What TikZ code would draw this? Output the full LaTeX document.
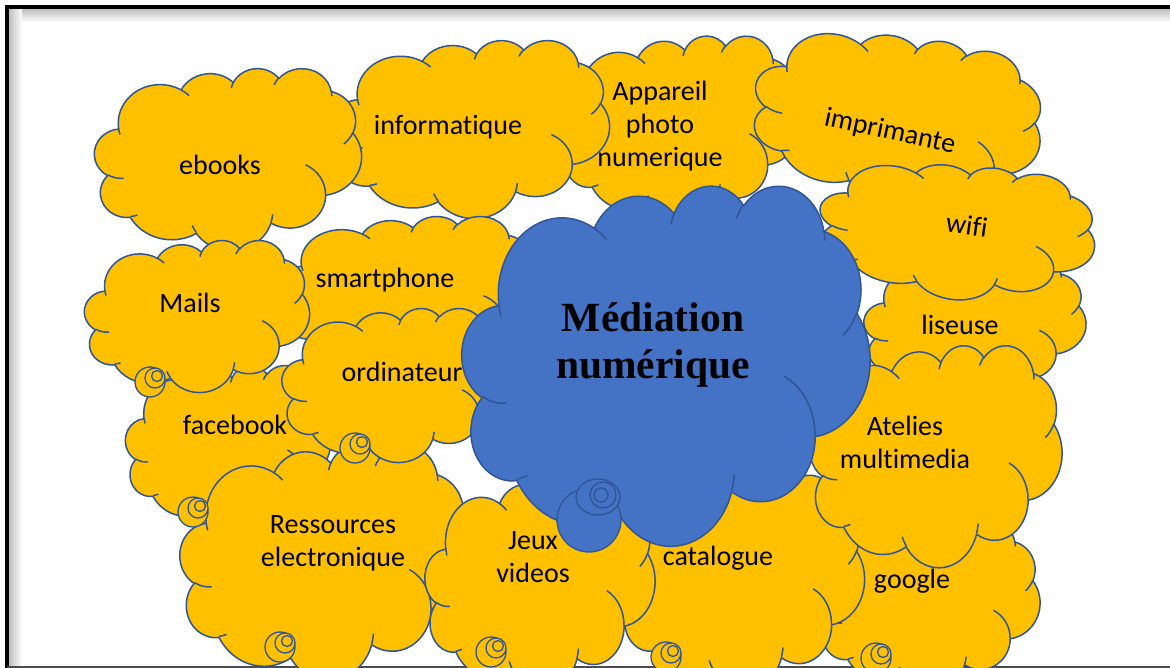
\documentclass[tikz,border=0pt]{standalone}
\usepackage{fontspec}
\setmainfont{Carlito}[Ligatures=NoCommon]
\newfontfamily\serifbold{Liberation Serif}
\definecolor{cyel}{HTML}{FFC000}
\definecolor{cblu}{HTML}{4472C4}
\definecolor{cedge}{HTML}{2F5597}
\makeatletter
\newcommand\mkarc[5]{%
  \pgfmathsetmacro\wc@a{atan2((#2)*sin(#4),(#3)*cos(#4))}%
  \pgfmathsetmacro\wc@b{atan2((#2)*sin((#4)+(#5)),(#3)*cos((#4)+(#5)))}%
  \pgfmathsetmacro\wc@b{(\wc@b<\wc@a)?(\wc@b+360):\wc@b}%
  \expandafter\xdef\csname wcarc#1\endcsname{arc[start angle=\wc@a, end angle=\wc@b, x radius=#2, y radius=#3]}%
}
\makeatother
% outline arcs (Word cloud geometry, units of 1/432)
\mkarc{A}{15.6319}{21.2731}{-190.48748}{123.78053}
\mkarc{B}{12.3449}{16.8218}{-144.10238}{89.94523}
\mkarc{C}{10.1042}{13.7616}{-145.80792}{99.72302}
\mkarc{D}{11.2431}{15.2662}{-130.98607}{117.24173}
\mkarc{E}{12.3449}{16.8356}{-78.70888}{109.02692}
\mkarc{F}{15.6829}{21.3426}{-46.26725}{130.269}
\mkarc{G}{13.3912}{18.2106}{0.62502}{114.03333}
\mkarc{H}{15.6296}{21.331}{22.4516}{115.17255}
\mkarc{I}{17.8704}{24.4051}{66.24263}{75.71102}
\mkarc{J}{10.0926}{13.6991}{-274.94208}{146.73557}
\mkarc{K}{10.0579}{13.7616}{-246.8285}{152.51885}
% interior arcs
\mkarc{Ia}{10.0579}{13.7616}{86.742}{26.4295}
\mkarc{Ib}{10.0926}{13.6991}{73.6105}{11.4475}
\mkarc{Ic}{15.6296}{21.331}{137.62415}{14.0811}
\mkarc{Id}{15.6296}{21.331}{6.45327}{15.99835}
\mkarc{Ie}{13.3912}{18.2106}{-70.29235}{70.91737}
\mkarc{If}{12.3449}{16.8356}{30.31803}{27.7515}
\mkarc{Ig}{11.2431}{15.2662}{-13.74433}{14.8589}
\mkarc{Ih}{11.2431}{15.2662}{-149.18145}{18.19537}
\mkarc{Ii}{10.1042}{13.7616}{-163.49427}{17.68635}
\mkarc{Ij}{15.6319}{21.2731}{-66.70695}{12.31935}
\mkarc{Ik}{15.6319}{21.2731}{157.65435}{11.85817}
\tikzset{
  cl/.style={draw=cedge, line width=1.5pt, line join=round, fill=cyel},
  bcl/.style={cl, fill=cblu},
  inl/.style={draw=cedge, line width=1.5pt},
  lbl/.style={font=\fontsize{28}{33}\selectfont, align=center, text=black, inner sep=0pt},
  tailc/.style={draw=cedge, line width=1.3pt, fill=cyel},
  btail/.style={draw=cedge, line width=1.3pt, fill=cblu},
}
% #1 name, #2 cx, #3 cy, #4 W, #5 H, #6 style, #7 rotation
\newcommand\wcloud[7]{%
  \coordinate (#1) at (#2,#3);
  \pgfmathsetmacro\wcw{#4/100}\pgfmathsetmacro\wch{-#5/100}%
  \begin{scope}[shift={(#2,#3)}, rotate=#7, x=\wcw pt, y=\wch pt, shift={(-50,-50)}]
    \path[#6] (9.0278,33.2639) \wcarcA \wcarcB \wcarcC \wcarcD \wcarcE \wcarcF
      \wcarcG \wcarcH \wcarcI \wcarcJ \wcarcK -- cycle;
    \path[inl] (10.8634,60.5949) \wcarcIa (16.037,80.7847) \wcarcIb
      (38.1435,90.4861) \wcarcIc (66.7292,80.4421) \wcarcId
      (79.0023,53.1343) \wcarcIe (96.7546,35.5417) \wcarcIf
      (88.713,12.5602) \wcarcIg (67.3102,9.1481) \wcarcIh
      (51.2523,10.9259) \wcarcIi (32.4074,12.0185) \wcarcIj
      (9.5532,36.5486) \wcarcIk;
  \end{scope}}
\newcommand{\tailat}[2]{%
  \draw[tailc] (#1-2,#2+2) circle[radius=15pt];
  \draw[tailc] (#1+3,#2-2) circle[radius=10pt];
  \draw[tailc] (#1+5,#2-4) circle[radius=5.5pt];}
\begin{document}
\begin{tikzpicture}[x=1pt,y=-1pt]
\useasboundingbox (0,0) rectangle (1170,668);
\clip (0,0) rectangle (1170,668);
\fill[white] (0,0) rectangle (1170,668);
% frame shadow
\shade[top color=black!25, bottom color=white] (9,9) rectangle (1175,22);
\shade[left color=black!25, right color=white] (9,9) rectangle (22,668);
\draw[line width=4pt] (7,690) -- (7,7) -- (1180,7);
\draw[line width=2pt, black!70] (7,667) -- (1180,667);
% clouds back to front
\wcloud{c3}{680}{128}{240}{185}{cl}{0}
\wcloud{c2}{471}{129}{277}{178}{cl}{0}
\wcloud{c1}{228}{159}{267}{182}{cl}{0}
\wcloud{c4}{897}{119}{290}{172}{cl}{-12}
\wcloud{c6}{975}{326}{222}{140}{cl}{0}
\wcloud{c5}{957}{231}{277}{136}{cl}{-8}
\wcloud{c8}{929}{605}{222}{170}{cl}{0}
\wcloud{c9}{742}{582}{245}{215}{cl}{0}
\wcloud{c7}{936}{456}{252}{222}{cl}{0}
\wcloud{c15}{408}{291}{260}{150}{cl}{0}
\wcloud{c12}{228}{445}{205}{160}{cl}{0}
\wcloud{c14}{197}{316}{225}{152}{cl}{0}
\wcloud{c11}{325}{562}{290}{235}{cl}{0}
\wcloud{c13}{396}{385}{228}{154}{cl}{0}
\wcloud{c10}{540}{584}{230}{212}{cl}{0}
% tails
\tailat{152}{380}
\tailat{195}{510}
\tailat{357}{446}
\tailat{282}{645}
\tailat{493}{650}
\tailat{668}{655}
\tailat{878}{656}
% central
\wcloud{c16}{666}{365}{408}{360}{bcl}{0}
\draw[btail] (589,520) circle[radius=32pt];
\draw[btail] (598,497) ellipse[x radius=22pt, y radius=18pt];
\draw[btail] (603,495) circle[radius=13pt];
\draw[btail] (601,495) circle[radius=7pt];
% labels
\node[lbl] (t1) at (220,165) {ebooks};
\node[lbl] (t2) at (448,127) {informatique};
\node[lbl] (t3) at (660,126) {Appareil\\photo\\numerique};
\node[lbl, rotate=-12] (t4) at (890,132) {imprimante};
\node[lbl, rotate=-8] (t5) at (967,225) {wifi};
\node[lbl] (t6) at (960,325) {liseuse};
\node[lbl] (t7) at (905,442) {Atelies\\multimedia};
\node[lbl] (t8) at (912,581) {google};
\node[lbl] (t9) at (718,558) {catalogue};
\node[lbl] (t10) at (533,557) {Jeux\\videos};
\node[lbl] (t11) at (333,543) {Ressources\\electronique};
\node[lbl] (t12) at (235,425) {facebook};
\node[lbl] (t13) at (402,372) {ordinateur};
\node[lbl] (t14) at (190,303) {Mails};
\node[lbl] (t15) at (385,280) {smartphone};
\node[lbl, font=\serifbold\bfseries\fontsize{41.5}{47}\selectfont] (t16) at (653,345) {Médiation\\numérique};
\end{tikzpicture}
\end{document}
